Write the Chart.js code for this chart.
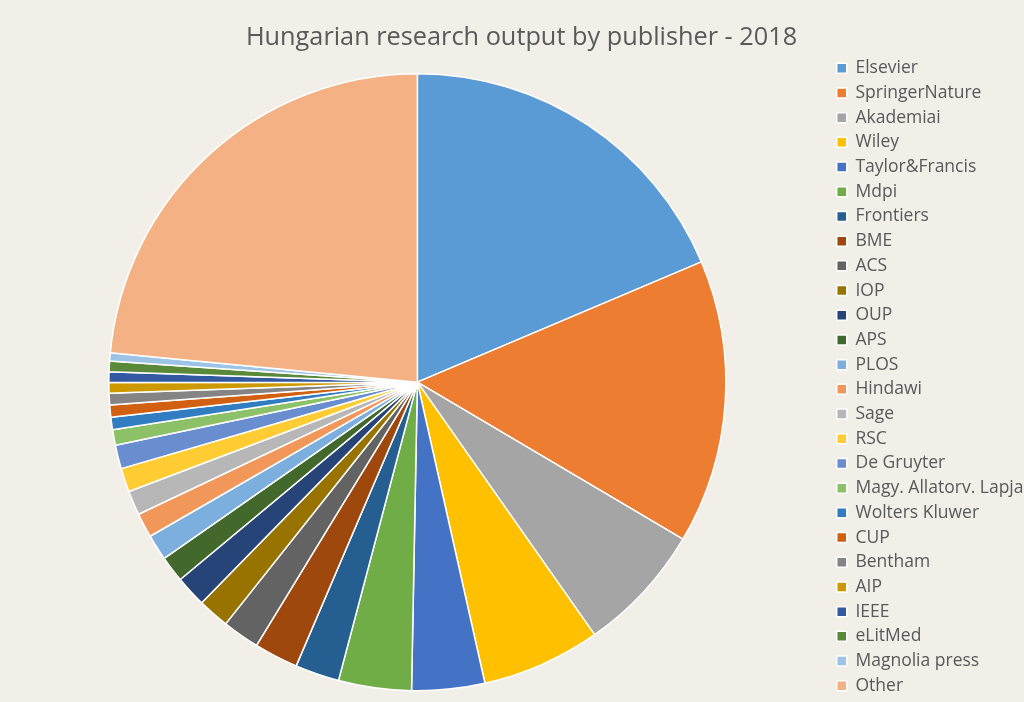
<!DOCTYPE html>
<html>
<head>
<meta charset="utf-8">
<title>Hungarian research output by publisher - 2018</title>
<script src="https://cdn.jsdelivr.net/npm/chart.js@4/dist/chart.umd.min.js"></script>
<style>
  html, body { margin: 0; padding: 0; background: #f2efe9; overflow: hidden; }
  canvas { display: block; }
</style>
</head>
<body>
<canvas id="publisherPie" width="1024" height="702"></canvas>
<script>
// publishers, in the order of the legend (clockwise from 12 o'clock)
const publishers = [
    'Elsevier', 'SpringerNature', 'Akademiai', 'Wiley', 'Taylor&Francis', 'Mdpi',
    'Frontiers', 'BME', 'ACS', 'IOP', 'OUP', 'APS', 'PLOS', 'Hindawi', 'Sage', 'RSC',
    'De Gruyter', 'Magy. Allatorv. Lapjai', 'Wolters Kluwer', 'CUP', 'Bentham', 'AIP',
    'IEEE', 'eLitMed', 'Magnolia press', 'Other'
];

// number of papers
const papers = [
    1675, 1338, 608, 560, 343, 343,
    208, 207, 175, 148, 147, 123, 122, 115, 115, 112,
    112, 73, 58, 57, 55, 50,
    50, 50, 38, 2112
];

const sliceColors = [
    '#5b9bd5', '#ed7d31', '#a5a5a5', '#ffc000', '#4472c4', '#70ad47',
    '#255e91', '#9e480e', '#636363', '#997300', '#264478', '#43682b', '#7cafdd',
    '#f1975a', '#b7b7b7', '#ffcd33', '#698ed0', '#8cc168', '#327dc2', '#d26012',
    '#848484', '#cc9a00', '#335aa1', '#5a8a39', '#9dc3e6', '#f4b183'
];

const textColor = '#595959';

new Chart(document.getElementById('publisherPie'), {
    type: 'pie',
    data: {
        labels: publishers,
        datasets: [{
            data: papers,
            backgroundColor: sliceColors,
            borderColor: '#ffffff',
            borderWidth: 1.5,
            radius: 308.5
        }]
    },
    options: {
        responsive: false,
        animation: false,
        layout: {
            padding: { top: 0, left: 5.2, right: -13.9, bottom: 0 }
        },
        plugins: {
            title: {
                display: true,
                text: 'Hungarian research output by publisher - 2018',
                color: textColor,
                font: { family: '"Open Sans", sans-serif', size: 25.3, weight: 'normal', lineHeight: 1.2 },
                padding: { top: 23, bottom: 9 }
            },
            legend: {
                position: 'right',
                align: 'start',
                // empty legend title only pushes the list down below the chart title
                title: { display: true, text: '', padding: { top: 37.9, bottom: 0 } },
                labels: {
                    color: textColor,
                    font: { family: '"Open Sans", sans-serif', size: 17.5 },
                    boxWidth: 10,
                    boxHeight: 10,
                    padding: 7.2
                }
            },
            tooltip: { enabled: false }
        }
    }
});
</script>
</body>
</html>
